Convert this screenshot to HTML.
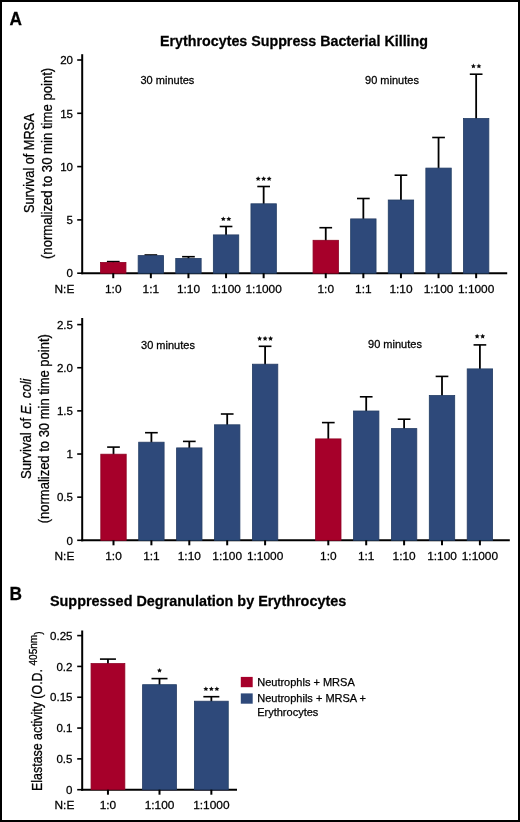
<!DOCTYPE html>
<html><head><meta charset="utf-8"><style>
html,body{margin:0;padding:0;background:#fff;}
body{width:520px;height:822px;overflow:hidden;}
svg{display:block;}
text{font-family:"Liberation Sans", sans-serif;fill:#000;stroke:#000;stroke-width:0.25px;}
</style></head><body>
<svg width="520" height="822" viewBox="0 0 520 822">
<defs><filter id="soft" x="0" y="0" width="100%" height="100%"><feGaussianBlur stdDeviation="0.35"/></filter></defs>
<rect x="1" y="1" width="518" height="820" fill="#fff" stroke="#000" stroke-width="2"/>
<g filter="url(#soft)">
<line x1="82.2" y1="54.2" x2="82.2" y2="274.2" stroke="#000" stroke-width="2"/>
<line x1="81.2" y1="273.2" x2="507.2" y2="273.2" stroke="#000" stroke-width="2"/>
<line x1="77.2" y1="273.2" x2="82.2" y2="273.2" stroke="#000" stroke-width="1.6"/>
<text transform="translate(73,277.4) scale(1.05,1)" font-size="11" text-anchor="end">0</text>
<line x1="77.2" y1="219.9" x2="82.2" y2="219.9" stroke="#000" stroke-width="1.6"/>
<text transform="translate(73,224.1) scale(1.05,1)" font-size="11" text-anchor="end">5</text>
<line x1="77.2" y1="166.6" x2="82.2" y2="166.6" stroke="#000" stroke-width="1.6"/>
<text transform="translate(73,170.8) scale(1.05,1)" font-size="11" text-anchor="end">10</text>
<line x1="77.2" y1="113.3" x2="82.2" y2="113.3" stroke="#000" stroke-width="1.6"/>
<text transform="translate(73,117.5) scale(1.05,1)" font-size="11" text-anchor="end">15</text>
<line x1="77.2" y1="60" x2="82.2" y2="60" stroke="#000" stroke-width="1.6"/>
<text transform="translate(73,64.2) scale(1.05,1)" font-size="11" text-anchor="end">20</text>
<line x1="113.25" y1="261.6" x2="113.25" y2="263" stroke="#000" stroke-width="1.8"/>
<line x1="106.9" y1="261.6" x2="119.6" y2="261.6" stroke="#000" stroke-width="1.6"/>
<rect x="100.55" y="262.40" width="25.40" height="10.80" fill="#a6002a" stroke="#8e0024" stroke-width="0.8"/>
<line x1="113.25" y1="273.2" x2="113.25" y2="278.2" stroke="#000" stroke-width="2"/>
<text transform="translate(113.25,292.8) scale(1.08,1)" font-size="11" text-anchor="middle">1:0</text>
<line x1="150.85" y1="255" x2="150.85" y2="256.2" stroke="#000" stroke-width="1.8"/>
<line x1="144.5" y1="255" x2="157.2" y2="255" stroke="#000" stroke-width="1.6"/>
<rect x="138.15" y="255.60" width="25.40" height="17.60" fill="#2d4a7a" stroke="#243c64" stroke-width="0.8"/>
<line x1="150.85" y1="273.2" x2="150.85" y2="278.2" stroke="#000" stroke-width="2"/>
<text transform="translate(150.85,292.8) scale(1.08,1)" font-size="11" text-anchor="middle">1:1</text>
<line x1="188.45" y1="256.7" x2="188.45" y2="259" stroke="#000" stroke-width="1.8"/>
<line x1="182.1" y1="256.7" x2="194.8" y2="256.7" stroke="#000" stroke-width="1.6"/>
<rect x="175.75" y="258.40" width="25.40" height="14.80" fill="#2d4a7a" stroke="#243c64" stroke-width="0.8"/>
<line x1="188.45" y1="273.2" x2="188.45" y2="278.2" stroke="#000" stroke-width="2"/>
<text transform="translate(188.45,292.8) scale(1.08,1)" font-size="11" text-anchor="middle">1:10</text>
<line x1="226.05" y1="226.5" x2="226.05" y2="235.5" stroke="#000" stroke-width="1.8"/>
<line x1="219.7" y1="226.5" x2="232.4" y2="226.5" stroke="#000" stroke-width="1.6"/>
<rect x="213.35" y="234.90" width="25.40" height="38.30" fill="#2d4a7a" stroke="#243c64" stroke-width="0.8"/>
<line x1="226.05" y1="273.2" x2="226.05" y2="278.2" stroke="#000" stroke-width="2"/>
<text transform="translate(226.05,292.8) scale(1.08,1)" font-size="11" text-anchor="middle">1:100</text>
<line x1="263.65" y1="186.5" x2="263.65" y2="204.4" stroke="#000" stroke-width="1.8"/>
<line x1="257.3" y1="186.5" x2="270" y2="186.5" stroke="#000" stroke-width="1.6"/>
<rect x="250.95" y="203.80" width="25.40" height="69.40" fill="#2d4a7a" stroke="#243c64" stroke-width="0.8"/>
<line x1="263.65" y1="273.2" x2="263.65" y2="278.2" stroke="#000" stroke-width="2"/>
<text transform="translate(263.65,292.8) scale(1.08,1)" font-size="11" text-anchor="middle">1:1000</text>
<line x1="325.75" y1="227.7" x2="325.75" y2="240.9" stroke="#000" stroke-width="1.8"/>
<line x1="319.4" y1="227.7" x2="332.1" y2="227.7" stroke="#000" stroke-width="1.6"/>
<rect x="313.05" y="240.30" width="25.40" height="32.90" fill="#a6002a" stroke="#8e0024" stroke-width="0.8"/>
<line x1="325.75" y1="273.2" x2="325.75" y2="278.2" stroke="#000" stroke-width="2"/>
<text transform="translate(325.75,292.8) scale(1.08,1)" font-size="11" text-anchor="middle">1:0</text>
<line x1="363.35" y1="198.5" x2="363.35" y2="219.5" stroke="#000" stroke-width="1.8"/>
<line x1="357" y1="198.5" x2="369.7" y2="198.5" stroke="#000" stroke-width="1.6"/>
<rect x="350.65" y="218.90" width="25.40" height="54.30" fill="#2d4a7a" stroke="#243c64" stroke-width="0.8"/>
<line x1="363.35" y1="273.2" x2="363.35" y2="278.2" stroke="#000" stroke-width="2"/>
<text transform="translate(363.35,292.8) scale(1.08,1)" font-size="11" text-anchor="middle">1:1</text>
<line x1="400.95" y1="175.2" x2="400.95" y2="200.6" stroke="#000" stroke-width="1.8"/>
<line x1="394.6" y1="175.2" x2="407.3" y2="175.2" stroke="#000" stroke-width="1.6"/>
<rect x="388.25" y="200.00" width="25.40" height="73.20" fill="#2d4a7a" stroke="#243c64" stroke-width="0.8"/>
<line x1="400.95" y1="273.2" x2="400.95" y2="278.2" stroke="#000" stroke-width="2"/>
<text transform="translate(400.95,292.8) scale(1.08,1)" font-size="11" text-anchor="middle">1:10</text>
<line x1="438.55" y1="137.5" x2="438.55" y2="168.7" stroke="#000" stroke-width="1.8"/>
<line x1="432.2" y1="137.5" x2="444.9" y2="137.5" stroke="#000" stroke-width="1.6"/>
<rect x="425.85" y="168.10" width="25.40" height="105.10" fill="#2d4a7a" stroke="#243c64" stroke-width="0.8"/>
<line x1="438.55" y1="273.2" x2="438.55" y2="278.2" stroke="#000" stroke-width="2"/>
<text transform="translate(438.55,292.8) scale(1.08,1)" font-size="11" text-anchor="middle">1:100</text>
<line x1="476.15" y1="74.2" x2="476.15" y2="119.1" stroke="#000" stroke-width="1.8"/>
<line x1="469.8" y1="74.2" x2="482.5" y2="74.2" stroke="#000" stroke-width="1.6"/>
<rect x="463.45" y="118.50" width="25.40" height="154.70" fill="#2d4a7a" stroke="#243c64" stroke-width="0.8"/>
<line x1="476.15" y1="273.2" x2="476.15" y2="278.2" stroke="#000" stroke-width="2"/>
<text transform="translate(476.15,292.8) scale(1.08,1)" font-size="11" text-anchor="middle">1:1000</text>
<text transform="translate(64.4,292.8) scale(1.08,1)" font-size="11" text-anchor="middle">N:E</text>
<text transform="translate(167.4,83.8) scale(1.08,1)" font-size="10.2" text-anchor="middle">30 minutes</text>
<text transform="translate(392,83.8) scale(1.08,1)" font-size="10.2" text-anchor="middle">90 minutes</text>
<polygon points="223.30,216.40 224.06,217.95 225.77,218.20 224.54,219.40 224.83,221.10 223.30,220.30 221.77,221.10 222.06,219.40 220.83,218.20 222.54,217.95" fill="#111"/>
<polygon points="228.80,216.40 229.56,217.95 231.27,218.20 230.04,219.40 230.33,221.10 228.80,220.30 227.27,221.10 227.56,219.40 226.33,218.20 228.04,217.95" fill="#111"/>
<polygon points="258.15,176.20 258.91,177.75 260.62,178.00 259.39,179.20 259.68,180.90 258.15,180.10 256.62,180.90 256.91,179.20 255.68,178.00 257.39,177.75" fill="#111"/>
<polygon points="263.65,176.20 264.41,177.75 266.12,178.00 264.89,179.20 265.18,180.90 263.65,180.10 262.12,180.90 262.41,179.20 261.18,178.00 262.89,177.75" fill="#111"/>
<polygon points="269.15,176.20 269.91,177.75 271.62,178.00 270.39,179.20 270.68,180.90 269.15,180.10 267.62,180.90 267.91,179.20 266.68,178.00 268.39,177.75" fill="#111"/>
<polygon points="473.40,63.60 474.16,65.15 475.87,65.40 474.64,66.60 474.93,68.30 473.40,67.50 471.87,68.30 472.16,66.60 470.93,65.40 472.64,65.15" fill="#111"/>
<polygon points="478.90,63.60 479.66,65.15 481.37,65.40 480.14,66.60 480.43,68.30 478.90,67.50 477.37,68.30 477.66,66.60 476.43,65.40 478.14,65.15" fill="#111"/>
<text transform="translate(34,163.2) scale(1.1,1) rotate(-90)" font-size="12.7" text-anchor="middle">Survival of MRSA</text>
<text transform="translate(52.2,163.4) scale(1.08,1) rotate(-90)" font-size="13.15" text-anchor="middle">(normalized to 30 min time point)</text>
<text transform="translate(294,46.2) scale(1.02,1)" font-size="14" text-anchor="middle" font-weight="bold">Erythrocytes Suppress Bacterial Killing</text>
<text transform="translate(9.6,25.2) scale(0.95,1)" font-size="18.2" text-anchor="start" font-weight="bold">A</text>
<line x1="82.2" y1="318" x2="82.2" y2="541.3" stroke="#000" stroke-width="2"/>
<line x1="81.2" y1="540.3" x2="509.8" y2="540.3" stroke="#000" stroke-width="2"/>
<line x1="77.2" y1="540.3" x2="82.2" y2="540.3" stroke="#000" stroke-width="1.6"/>
<text transform="translate(73,544.5) scale(1.05,1)" font-size="11" text-anchor="end">0</text>
<line x1="77.2" y1="497.16" x2="82.2" y2="497.16" stroke="#000" stroke-width="1.6"/>
<text transform="translate(73,501.36) scale(1.05,1)" font-size="11" text-anchor="end">0.5</text>
<line x1="77.2" y1="454.02" x2="82.2" y2="454.02" stroke="#000" stroke-width="1.6"/>
<text transform="translate(73,458.22) scale(1.05,1)" font-size="11" text-anchor="end">1</text>
<line x1="77.2" y1="410.88" x2="82.2" y2="410.88" stroke="#000" stroke-width="1.6"/>
<text transform="translate(73,415.08) scale(1.05,1)" font-size="11" text-anchor="end">1.5</text>
<line x1="77.2" y1="367.74" x2="82.2" y2="367.74" stroke="#000" stroke-width="1.6"/>
<text transform="translate(73,371.94) scale(1.05,1)" font-size="11" text-anchor="end">2.0</text>
<line x1="77.2" y1="324.6" x2="82.2" y2="324.6" stroke="#000" stroke-width="1.6"/>
<text transform="translate(73,328.8) scale(1.05,1)" font-size="11" text-anchor="end">2.5</text>
<line x1="113.5" y1="447.1" x2="113.5" y2="454.8" stroke="#000" stroke-width="1.8"/>
<line x1="107.15" y1="447.1" x2="119.85" y2="447.1" stroke="#000" stroke-width="1.6"/>
<rect x="100.80" y="454.20" width="25.40" height="86.10" fill="#a6002a" stroke="#8e0024" stroke-width="0.8"/>
<line x1="113.5" y1="540.3" x2="113.5" y2="545.3" stroke="#000" stroke-width="2"/>
<text transform="translate(113.5,560) scale(1.08,1)" font-size="11" text-anchor="middle">1:0</text>
<line x1="151.4" y1="432.7" x2="151.4" y2="442.8" stroke="#000" stroke-width="1.8"/>
<line x1="145.05" y1="432.7" x2="157.75" y2="432.7" stroke="#000" stroke-width="1.6"/>
<rect x="138.70" y="442.20" width="25.40" height="98.10" fill="#2d4a7a" stroke="#243c64" stroke-width="0.8"/>
<line x1="151.4" y1="540.3" x2="151.4" y2="545.3" stroke="#000" stroke-width="2"/>
<text transform="translate(151.4,560) scale(1.08,1)" font-size="11" text-anchor="middle">1:1</text>
<line x1="189.3" y1="441.4" x2="189.3" y2="448.5" stroke="#000" stroke-width="1.8"/>
<line x1="182.95" y1="441.4" x2="195.65" y2="441.4" stroke="#000" stroke-width="1.6"/>
<rect x="176.60" y="447.90" width="25.40" height="92.40" fill="#2d4a7a" stroke="#243c64" stroke-width="0.8"/>
<line x1="189.3" y1="540.3" x2="189.3" y2="545.3" stroke="#000" stroke-width="2"/>
<text transform="translate(189.3,560) scale(1.08,1)" font-size="11" text-anchor="middle">1:10</text>
<line x1="227.2" y1="414" x2="227.2" y2="425.4" stroke="#000" stroke-width="1.8"/>
<line x1="220.85" y1="414" x2="233.55" y2="414" stroke="#000" stroke-width="1.6"/>
<rect x="214.50" y="424.80" width="25.40" height="115.50" fill="#2d4a7a" stroke="#243c64" stroke-width="0.8"/>
<line x1="227.2" y1="540.3" x2="227.2" y2="545.3" stroke="#000" stroke-width="2"/>
<text transform="translate(227.2,560) scale(1.08,1)" font-size="11" text-anchor="middle">1:100</text>
<line x1="265.1" y1="346.3" x2="265.1" y2="364.8" stroke="#000" stroke-width="1.8"/>
<line x1="258.75" y1="346.3" x2="271.45" y2="346.3" stroke="#000" stroke-width="1.6"/>
<rect x="252.40" y="364.20" width="25.40" height="176.10" fill="#2d4a7a" stroke="#243c64" stroke-width="0.8"/>
<line x1="265.1" y1="540.3" x2="265.1" y2="545.3" stroke="#000" stroke-width="2"/>
<text transform="translate(265.1,560) scale(1.08,1)" font-size="11" text-anchor="middle">1:1000</text>
<line x1="328.3" y1="422.6" x2="328.3" y2="439.5" stroke="#000" stroke-width="1.8"/>
<line x1="321.95" y1="422.6" x2="334.65" y2="422.6" stroke="#000" stroke-width="1.6"/>
<rect x="315.60" y="438.90" width="25.40" height="101.40" fill="#a6002a" stroke="#8e0024" stroke-width="0.8"/>
<line x1="328.3" y1="540.3" x2="328.3" y2="545.3" stroke="#000" stroke-width="2"/>
<text transform="translate(328.3,560) scale(1.08,1)" font-size="11" text-anchor="middle">1:0</text>
<line x1="366.2" y1="396.8" x2="366.2" y2="411.6" stroke="#000" stroke-width="1.8"/>
<line x1="359.85" y1="396.8" x2="372.55" y2="396.8" stroke="#000" stroke-width="1.6"/>
<rect x="353.50" y="411.00" width="25.40" height="129.30" fill="#2d4a7a" stroke="#243c64" stroke-width="0.8"/>
<line x1="366.2" y1="540.3" x2="366.2" y2="545.3" stroke="#000" stroke-width="2"/>
<text transform="translate(366.2,560) scale(1.08,1)" font-size="11" text-anchor="middle">1:1</text>
<line x1="404.1" y1="419.2" x2="404.1" y2="429.2" stroke="#000" stroke-width="1.8"/>
<line x1="397.75" y1="419.2" x2="410.45" y2="419.2" stroke="#000" stroke-width="1.6"/>
<rect x="391.40" y="428.60" width="25.40" height="111.70" fill="#2d4a7a" stroke="#243c64" stroke-width="0.8"/>
<line x1="404.1" y1="540.3" x2="404.1" y2="545.3" stroke="#000" stroke-width="2"/>
<text transform="translate(404.1,560) scale(1.08,1)" font-size="11" text-anchor="middle">1:10</text>
<line x1="442" y1="376.4" x2="442" y2="396.1" stroke="#000" stroke-width="1.8"/>
<line x1="435.65" y1="376.4" x2="448.35" y2="376.4" stroke="#000" stroke-width="1.6"/>
<rect x="429.30" y="395.50" width="25.40" height="144.80" fill="#2d4a7a" stroke="#243c64" stroke-width="0.8"/>
<line x1="442" y1="540.3" x2="442" y2="545.3" stroke="#000" stroke-width="2"/>
<text transform="translate(442,560) scale(1.08,1)" font-size="11" text-anchor="middle">1:100</text>
<line x1="479.9" y1="344.9" x2="479.9" y2="369.5" stroke="#000" stroke-width="1.8"/>
<line x1="473.55" y1="344.9" x2="486.25" y2="344.9" stroke="#000" stroke-width="1.6"/>
<rect x="467.20" y="368.90" width="25.40" height="171.40" fill="#2d4a7a" stroke="#243c64" stroke-width="0.8"/>
<line x1="479.9" y1="540.3" x2="479.9" y2="545.3" stroke="#000" stroke-width="2"/>
<text transform="translate(479.9,560) scale(1.08,1)" font-size="11" text-anchor="middle">1:1000</text>
<text transform="translate(64.4,560) scale(1.08,1)" font-size="11" text-anchor="middle">N:E</text>
<text transform="translate(168,348.5) scale(1.08,1)" font-size="10.2" text-anchor="middle">30 minutes</text>
<text transform="translate(395,348.4) scale(1.08,1)" font-size="10.2" text-anchor="middle">90 minutes</text>
<polygon points="259.60,336.00 260.36,337.55 262.07,337.80 260.84,339.00 261.13,340.70 259.60,339.90 258.07,340.70 258.36,339.00 257.13,337.80 258.84,337.55" fill="#111"/>
<polygon points="265.10,336.00 265.86,337.55 267.57,337.80 266.34,339.00 266.63,340.70 265.10,339.90 263.57,340.70 263.86,339.00 262.63,337.80 264.34,337.55" fill="#111"/>
<polygon points="270.60,336.00 271.36,337.55 273.07,337.80 271.84,339.00 272.13,340.70 270.60,339.90 269.07,340.70 269.36,339.00 268.13,337.80 269.84,337.55" fill="#111"/>
<polygon points="477.15,333.80 477.91,335.35 479.62,335.60 478.39,336.80 478.68,338.50 477.15,337.70 475.62,338.50 475.91,336.80 474.68,335.60 476.39,335.35" fill="#111"/>
<polygon points="482.65,333.80 483.41,335.35 485.12,335.60 483.89,336.80 484.18,338.50 482.65,337.70 481.12,338.50 481.41,336.80 480.18,335.60 481.89,335.35" fill="#111"/>
<text transform="translate(31,428.7) scale(1.08,1) rotate(-90)" font-size="13.1" text-anchor="middle">Survival of <tspan font-style="italic">E. coli</tspan></text>
<text transform="translate(48.8,428.7) scale(1.08,1) rotate(-90)" font-size="13" text-anchor="middle">(normalized to 30 min time point)</text>
<text transform="translate(9.6,600) scale(0.95,1)" font-size="18.2" text-anchor="start" font-weight="bold">B</text>
<text transform="translate(198.1,605.6) scale(1.03,1)" font-size="14" text-anchor="middle" font-weight="bold">Suppressed Degranulation by Erythrocytes</text>
<line x1="82.2" y1="630.5" x2="82.2" y2="790.7" stroke="#000" stroke-width="2"/>
<line x1="81.2" y1="789.7" x2="237" y2="789.7" stroke="#000" stroke-width="2"/>
<line x1="77.2" y1="789.7" x2="82.2" y2="789.7" stroke="#000" stroke-width="1.6"/>
<text transform="translate(72.5,793.9) scale(1.05,1)" font-size="11" text-anchor="end">0</text>
<line x1="77.2" y1="758.88" x2="82.2" y2="758.88" stroke="#000" stroke-width="1.6"/>
<text transform="translate(72.5,763.08) scale(1.05,1)" font-size="11" text-anchor="end">0.5</text>
<line x1="77.2" y1="728.06" x2="82.2" y2="728.06" stroke="#000" stroke-width="1.6"/>
<text transform="translate(72.5,732.26) scale(1.05,1)" font-size="11" text-anchor="end">0.1</text>
<line x1="77.2" y1="697.24" x2="82.2" y2="697.24" stroke="#000" stroke-width="1.6"/>
<text transform="translate(72.5,701.44) scale(1.05,1)" font-size="11" text-anchor="end">0.15</text>
<line x1="77.2" y1="666.42" x2="82.2" y2="666.42" stroke="#000" stroke-width="1.6"/>
<text transform="translate(72.5,670.62) scale(1.05,1)" font-size="11" text-anchor="end">0.2</text>
<line x1="77.2" y1="635.6" x2="82.2" y2="635.6" stroke="#000" stroke-width="1.6"/>
<text transform="translate(72.5,639.8) scale(1.05,1)" font-size="11" text-anchor="end">0.25</text>
<line x1="107.95" y1="659.1" x2="107.95" y2="664.2" stroke="#000" stroke-width="1.8"/>
<line x1="99.95" y1="659.1" x2="115.95" y2="659.1" stroke="#000" stroke-width="1.6"/>
<rect x="91.05" y="663.60" width="33.80" height="126.10" fill="#a6002a" stroke="#8e0024" stroke-width="0.8"/>
<line x1="107.95" y1="789.7" x2="107.95" y2="794.7" stroke="#000" stroke-width="2"/>
<text transform="translate(107.95,809.2) scale(1.08,1)" font-size="11" text-anchor="middle">1:0</text>
<line x1="159.5" y1="678.6" x2="159.5" y2="685.3" stroke="#000" stroke-width="1.8"/>
<line x1="151.5" y1="678.6" x2="167.5" y2="678.6" stroke="#000" stroke-width="1.6"/>
<rect x="142.60" y="684.70" width="33.80" height="105.00" fill="#2d4a7a" stroke="#243c64" stroke-width="0.8"/>
<line x1="159.5" y1="789.7" x2="159.5" y2="794.7" stroke="#000" stroke-width="2"/>
<text transform="translate(159.5,809.2) scale(1.08,1)" font-size="11" text-anchor="middle">1:100</text>
<line x1="211.35" y1="696.7" x2="211.35" y2="701.8" stroke="#000" stroke-width="1.8"/>
<line x1="203.35" y1="696.7" x2="219.35" y2="696.7" stroke="#000" stroke-width="1.6"/>
<rect x="194.45" y="701.20" width="33.80" height="88.50" fill="#2d4a7a" stroke="#243c64" stroke-width="0.8"/>
<line x1="211.35" y1="789.7" x2="211.35" y2="794.7" stroke="#000" stroke-width="2"/>
<text transform="translate(211.35,809.2) scale(1.08,1)" font-size="11" text-anchor="middle">1:1000</text>
<text transform="translate(64.4,809.2) scale(1.08,1)" font-size="11" text-anchor="middle">N:E</text>
<polygon points="159.50,667.90 160.26,669.45 161.97,669.70 160.74,670.90 161.03,672.60 159.50,671.80 157.97,672.60 158.26,670.90 157.03,669.70 158.74,669.45" fill="#111"/>
<polygon points="205.85,686.40 206.61,687.95 208.32,688.20 207.09,689.40 207.38,691.10 205.85,690.30 204.32,691.10 204.61,689.40 203.38,688.20 205.09,687.95" fill="#111"/>
<polygon points="211.35,686.40 212.11,687.95 213.82,688.20 212.59,689.40 212.88,691.10 211.35,690.30 209.82,691.10 210.11,689.40 208.88,688.20 210.59,687.95" fill="#111"/>
<polygon points="216.85,686.40 217.61,687.95 219.32,688.20 218.09,689.40 218.38,691.10 216.85,690.30 215.32,691.10 215.61,689.40 214.38,688.20 216.09,687.95" fill="#111"/>
<text transform="translate(41.7,790.9) scale(1.13,1) rotate(-90)" font-size="12.4" text-anchor="start">Elastase activity (O.D. <tspan font-size="10.1" dy="-4.3">405nm</tspan><tspan font-size="10" dy="4.3">)</tspan></text>
<rect x="240.8" y="676.9" width="11.9" height="10.3" fill="#a6002a"/>
<rect x="240.8" y="693.4" width="11.9" height="10.3" fill="#2d4a7a"/>
<text transform="translate(257.2,685.7) scale(1.0,1)" font-size="11" text-anchor="start">Neutrophls + MRSA</text>
<text transform="translate(257.2,702.3) scale(1.0,1)" font-size="11" text-anchor="start">Neutrophils + MRSA +</text>
<text transform="translate(257.2,715.7) scale(1.0,1)" font-size="11" text-anchor="start">Erythrocytes</text>
</g>
</svg>
</body></html>
